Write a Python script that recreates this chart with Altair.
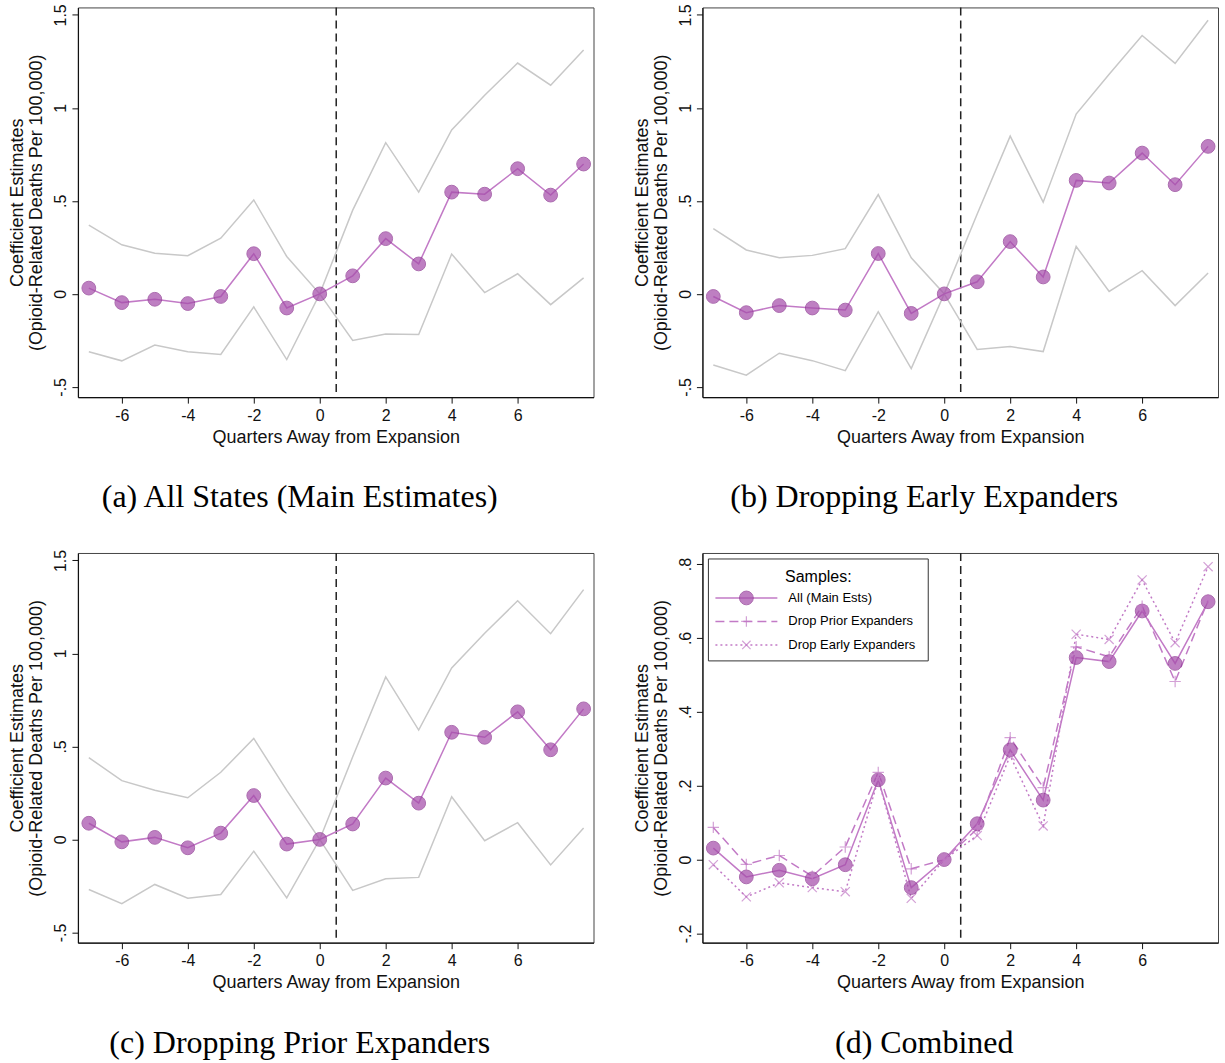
import altair as alt
import pandas as pd

# Event-time grid (quarters relative to the Medicaid expansion)
quarters = list(range(-7, 9))

# (a) All states
all_est = [0.031, -0.047, -0.029, -0.052, -0.014, 0.216, -0.076, 0.0,
           0.097, 0.297, 0.161, 0.547, 0.536, 0.673, 0.531, 0.698]
all_hi = [0.370, 0.264, 0.218, 0.205, 0.299, 0.505, 0.201, 0.0,
          0.450, 0.813, 0.547, 0.881, 1.068, 1.241, 1.122, 1.311]
all_lo = [-0.311, -0.360, -0.275, -0.311, -0.326, -0.070, -0.353, 0.0,
          -0.250, -0.216, -0.219, 0.214, 0.007, 0.108, -0.058, 0.086]

# (b) Dropping early expanders
early_est = [-0.014, -0.101, -0.063, -0.076, -0.087, 0.217, -0.105, 0.0,
             0.065, 0.281, 0.091, 0.610, 0.596, 0.757, 0.587, 0.793]
early_hi = [0.351, 0.236, 0.194, 0.207, 0.243, 0.534, 0.194, 0.0,
            0.429, 0.848, 0.493, 0.967, 1.181, 1.389, 1.239, 1.471]
early_lo = [-0.382, -0.437, -0.319, -0.359, -0.413, -0.096, -0.402, 0.0,
            -0.299, -0.283, -0.310, 0.255, 0.013, 0.125, -0.063, 0.112]

# (c) Dropping prior expanders
prior_est = [0.087, -0.013, 0.011, -0.045, 0.034, 0.236, -0.025, 0.0,
             0.083, 0.330, 0.195, 0.576, 0.549, 0.686, 0.482, 0.702]
prior_hi = [0.440, 0.316, 0.264, 0.224, 0.361, 0.543, 0.264, 0.0,
            0.444, 0.874, 0.588, 0.922, 1.108, 1.283, 1.106, 1.343]
prior_lo = [-0.269, -0.345, -0.242, -0.316, -0.296, -0.063, -0.314, 0.0,
            -0.274, -0.211, -0.204, 0.229, -0.007, 0.090, -0.137, 0.061]

captions = ["(a) All States (Main Estimates)", "(b) Dropping Early Expanders",
            "(c) Dropping Prior Expanders", "(d) Combined"]
legend_names = ["All (Main Ests)", "Drop Prior Expanders", "Drop Early Expanders"]
x_ticks = [-6, -4, -2, 0, 2, 4, 6]
y_ticks_wide = [-0.5, 0, 0.5, 1, 1.5]
y_ticks_combined = [-0.2, 0, 0.2, 0.4, 0.6, 0.8]
expansion_cut = 0.5

PURPLE_LINE = "#c27ac6"
PURPLE_FILL = "#a64fab"
PURPLE_EDGE = "#8c3491"
CI_GRAY = "#c8c8c8"
SANS = "Liberation Sans"
SERIF = "Liberation Serif"
W, H = 516, 390

Y_TITLE = ["Coefficient Estimates", "(Opioid-Related Deaths Per 100,000)"]
Y_LABELS = ("datum.value == 0 ? '0' : (datum.value < 0 ? '-' : '') + "
            "replace(format(abs(datum.value), '~g'), '0.', '.')")
X_LABELS = "(datum.value < 0 ? '-' : '') + format(abs(datum.value), 'd')"


def x_enc():
    return alt.X("quarter:Q",
                 scale=alt.Scale(domain=[-7.33, 8.3], nice=False, zero=False),
                 axis=alt.Axis(values=x_ticks, title="Quarters Away from Expansion",
                               labelExpr=X_LABELS))


def y_enc(domain, ticks):
    return alt.Y("value:Q",
                 scale=alt.Scale(domain=domain, nice=False, zero=False),
                 axis=alt.Axis(values=ticks, title=Y_TITLE, labelExpr=Y_LABELS,
                               labelAngle=270, labelAlign="center",
                               labelBaseline="bottom"))


def caption(text):
    # captions are centred on the whole panel, axes included
    return alt.TitleParams(text=text, orient="bottom", font=SERIF, fontSize=32,
                           fontWeight="normal", color="black", offset=36,
                           anchor="middle", dx=-36)


def cut_line():
    return alt.Chart(pd.DataFrame({"quarter": [expansion_cut]})).mark_rule(
        color="#222", strokeWidth=1.5, strokeDash=[8, 5]
    ).encode(x=alt.X("quarter:Q"))


def single_panel(est, hi, lo, text):
    domain = [-0.555, 1.54]
    ci = pd.DataFrame({
        "quarter": quarters * 2,
        "value": hi + lo,
        "bound": ["upper"] * len(quarters) + ["lower"] * len(quarters),
    })
    pts = pd.DataFrame({"quarter": quarters, "value": est})
    ci_lines = alt.Chart(ci).mark_line(color=CI_GRAY, strokeWidth=1.5).encode(
        x=x_enc(), y=y_enc(domain, y_ticks_wide), detail="bound:N")
    est_line = alt.Chart(pts).mark_line(color=PURPLE_LINE, strokeWidth=1.5).encode(
        x=x_enc(), y=y_enc(domain, y_ticks_wide))
    est_pts = alt.Chart(pts).mark_circle(
        size=190, color=PURPLE_FILL, opacity=0.72, stroke=PURPLE_EDGE, strokeWidth=1
    ).encode(x=x_enc(), y=y_enc(domain, y_ticks_wide))
    return alt.layer(cut_line(), ci_lines, est_line, est_pts).properties(
        width=W, height=H, title=caption(text))


PLUS = "M-1,0L1,0M0,-1L0,1"
CROSS = "M-0.8,-0.8L0.8,0.8M-0.8,0.8L0.8,-0.8"


def combined_panel(text):
    domain = [-0.225, 0.83]
    series = [
        (legend_names[0], all_est, [], "circle"),
        (legend_names[1], prior_est, [9, 5], PLUS),
        (legend_names[2], early_est, [2, 3], CROSS),
    ]
    layers = [cut_line()]
    marks = []
    for name, vals, dash, shape in series:
        df = pd.DataFrame({"quarter": quarters, "value": vals})
        line_kw = dict(color=PURPLE_LINE, strokeWidth=1.5)
        if dash:
            line_kw["strokeDash"] = dash
        layers.append(alt.Chart(df).mark_line(**line_kw).encode(
            x=x_enc(), y=y_enc(domain, y_ticks_combined)))
        if shape == "circle":
            marks.append(alt.Chart(df).mark_circle(
                size=190, color=PURPLE_FILL, opacity=0.72, stroke=PURPLE_EDGE,
                strokeWidth=1).encode(x=x_enc(), y=y_enc(domain, y_ticks_combined)))
        else:
            marks.append(alt.Chart(df).mark_point(
                shape=shape, size=130, filled=False, color=PURPLE_LINE,
                strokeWidth=1.2).encode(x=x_enc(), y=y_enc(domain, y_ticks_combined)))
    layers += marks

    # legend box
    one = pd.DataFrame({"k": [0]})
    layers.append(alt.Chart(one).mark_rect(fill="white", stroke="#333", strokeWidth=1).encode(
        x=alt.value(6), x2=alt.value(226), y=alt.value(6), y2=alt.value(108)))
    layers.append(alt.Chart(pd.DataFrame({"label": ["Samples:"]})).mark_text(
        font=SANS, fontSize=16, align="center", baseline="middle", color="black"
    ).encode(x=alt.value(116), y=alt.value(24), text="label:N"))
    for i, (name, _, dash, shape) in enumerate(series):
        ry = 45 + i * 23.5
        rule_kw = dict(color=PURPLE_LINE, strokeWidth=1.5)
        if dash:
            rule_kw["strokeDash"] = dash
        layers.append(alt.Chart(one).mark_rule(**rule_kw).encode(
            x=alt.value(13), x2=alt.value(75), y=alt.value(ry)))
        if shape == "circle":
            layers.append(alt.Chart(one).mark_circle(
                size=190, color=PURPLE_FILL, opacity=0.72, stroke=PURPLE_EDGE,
                strokeWidth=1).encode(x=alt.value(44), y=alt.value(ry)))
        else:
            layers.append(alt.Chart(one).mark_point(
                shape=shape, size=110, filled=False, color=PURPLE_LINE,
                strokeWidth=1.2).encode(x=alt.value(44), y=alt.value(ry)))
        layers.append(alt.Chart(pd.DataFrame({"label": [name]})).mark_text(
            font=SANS, fontSize=13, align="left", baseline="middle", color="black"
        ).encode(x=alt.value(86), y=alt.value(ry), text="label:N"))

    return alt.layer(*layers).properties(width=W, height=H, title=caption(text))


top = alt.hconcat(
    single_panel(all_est, all_hi, all_lo, captions[0]),
    single_panel(early_est, early_hi, early_lo, captions[1]),
    spacing=38,
)
bottom = alt.hconcat(
    single_panel(prior_est, prior_hi, prior_lo, captions[2]),
    combined_panel(captions[3]),
    spacing=38,
)

chart = alt.vconcat(top, bottom, spacing=34).configure(
    background="white",
    padding={"left": 8, "top": 2, "right": 6, "bottom": 4},
).configure_view(
    stroke="#444", strokeWidth=1,
).configure_axis(
    grid=False, domainColor="#111", domainWidth=1.2, tickColor="#111",
    tickSize=6, tickWidth=1, labelFont=SANS, labelFontSize=16, labelColor="#111",
    titleFont=SANS, titleFontSize=18, titleFontWeight="normal", titleColor="#111",
    labelFlush=False, labelOverlap=False, titleLineHeight=19,
).configure_axisX(
    labelPadding=4, titlePadding=5,
).configure_axisY(
    labelPadding=3, titlePadding=7,
)

chart.save("out.html", embed_options={"renderer": "svg", "actions": False})
